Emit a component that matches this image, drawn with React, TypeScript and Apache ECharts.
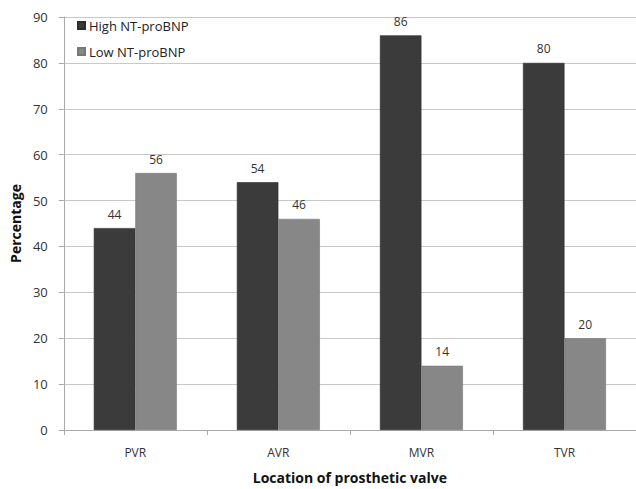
import React, { useEffect, useRef } from "react";
import * as echarts from "echarts";

const categories = ["PVR", "AVR", "MVR", "TVR"];
const highValues = [44, 54, 86, 80];
const lowValues = [56, 46, 14, 20];
const seriesNames = ["High NT-proBNP", "Low NT-proBNP"];

const FONT = "'Open Sans', 'Noto Sans', sans-serif";

export default function App() {
  const ref = useRef<HTMLDivElement>(null);
  useEffect(() => {
    if (!ref.current) return;
    const chart = echarts.init(ref.current, null, { renderer: "svg" });
    const label = {
      show: true,
      position: "top" as const,
      distance: 8,
      color: "#333",
      fontFamily: FONT,
      fontSize: 12,
    };
    chart.setOption({
      animation: false,
      backgroundColor: "#fff",
      textStyle: { fontFamily: FONT },
      grid: { left: 61, right: -3, top: 17, bottom: 56, containLabel: false },
      legend: {
        orient: "vertical",
        left: 72,
        top: 14,
        itemWidth: 7,
        itemHeight: 7,
        itemGap: 13,
        icon: "rect",
        textStyle: { fontFamily: FONT, fontSize: 13, color: "#222", padding: [0, 0, 0, -1] },
        data: seriesNames,
      },
      xAxis: {
        type: "category",
        data: categories,
        name: "Location of prosthetic valve",
        nameLocation: "middle",
        nameGap: 40,
        nameTextStyle: { fontFamily: FONT, fontSize: 14, fontWeight: "bold", color: "#111" },
        axisLine: { show: true, lineStyle: { color: "#aaa", width: 1 } },
        axisTick: { show: true, length: 5, lineStyle: { color: "#aaa" } },
        axisLabel: { fontFamily: FONT, fontSize: 12, color: "#333", margin: 16 },
      },
      yAxis: {
        type: "value",
        min: 0,
        max: 90,
        interval: 10,
        name: "Percentage",
        nameLocation: "middle",
        nameGap: 38,
        nameTextStyle: { fontFamily: FONT, fontSize: 14, fontWeight: "bold", color: "#111" },
        axisLine: { show: true, lineStyle: { color: "#aaa", width: 1 } },
        axisTick: { show: true, length: 5, lineStyle: { color: "#aaa" } },
        axisLabel: { fontFamily: FONT, fontSize: 13, color: "#333", margin: 16 },
        splitLine: { show: true, lineStyle: { color: "#c8c8c8", width: 1 } },
      },
      series: [
        {
          name: seriesNames[0],
          type: "bar",
          data: highValues,
          barGap: "0%",
          barCategoryGap: "42%",
          itemStyle: { color: "#3b3b3b", borderColor: "#2c2c2c", borderWidth: 0.6 },
          label,
        },
        {
          name: seriesNames[1],
          type: "bar",
          data: lowValues,
          barGap: "0%",
          barCategoryGap: "42%",
          itemStyle: { color: "#878787", borderColor: "#777", borderWidth: 0.6 },
          label,
        },
      ],
    });
    return () => chart.dispose();
  }, []);
  return <div ref={ref} style={{ width: 636, height: 489, position: "absolute", left: 0, top: 0 }} />;
}
